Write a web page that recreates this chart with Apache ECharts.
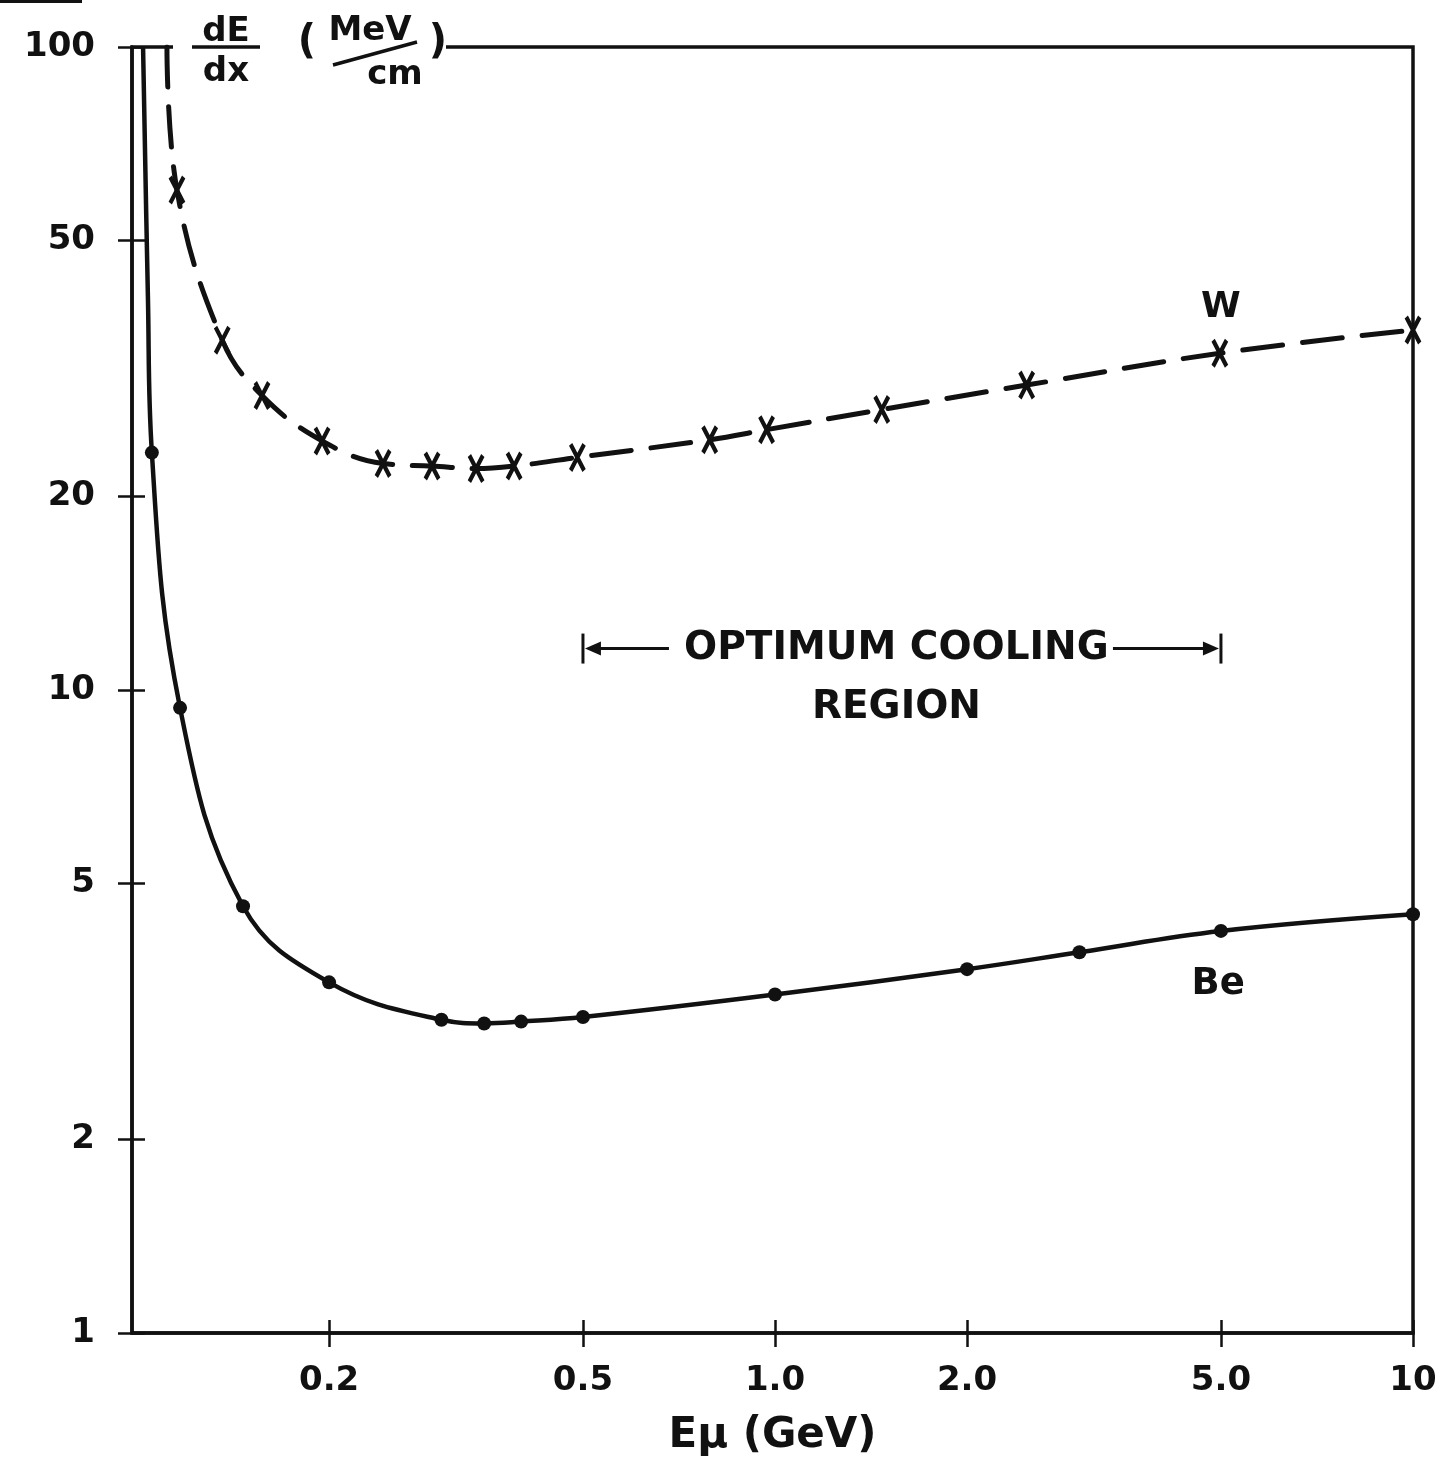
<!DOCTYPE html>
<html>
<head>
<meta charset="utf-8">
<title>dE/dx vs E</title>
<script src="https://cdn.jsdelivr.net/npm/echarts@6/dist/echarts.min.js"></script>
<style>
  html, body { margin: 0; padding: 0; background: #fff; }
  #main { width: 1448px; height: 1470px; }
</style>
</head>
<body>
<div id="main"></div>
<script>
// muon energy (GeV) and dE/dx (MeV/cm)
var beE = [0.1055, 0.1168, 0.1466, 0.2, 0.3, 0.35, 0.4, 0.5, 1.0, 2.0, 3.0, 5.0, 10];
var beV = [23.4, 9.38, 4.61, 3.51, 3.07, 3.03, 3.05, 3.10, 3.36, 3.68, 3.91, 4.22, 4.48];
// unmarked part of the Be curve running off the top
var beTopE = [0.1022, 0.1040];
var beTopV = [100, 41];

var wE = [0.1155, 0.136, 0.157, 0.195, 0.243, 0.29, 0.34, 0.39, 0.49, 0.79, 0.97, 1.47, 2.48, 4.98, 10];
var wV = [59.9, 35.0, 28.7, 24.4, 22.5, 22.3, 22.1, 22.3, 23.0, 24.5, 25.4, 27.3, 29.8, 33.4, 36.3];
var wTopE = [0.1114];
var wTopV = [100];

var xTicks = [0.2, 0.5, 1, 2, 5, 10];
var xTickLabels = ['0.2', '0.5', '1.0', '2.0', '5.0', '10'];
var yTicks = [1, 2, 5, 10, 20, 50, 100];
var yTickLabels = ['1', '2', '5', '10', '20', '50', '100'];

var xMin = Math.log10(0.0982), xMax = 1;
var yMin = 0, yMax = 2;

var ink = '#111';
// X-shaped marker built from two thick bars
var asterisk = 'path://M0,2.81L17,27.81L21.14,25L4.14,0ZM17,0L0,25L4.14,27.81L21.14,2.81Z';

function pts(es, vs) {
  var out = [];
  for (var i = 0; i < es.length; i++) out.push([Math.log10(es[i]), Math.log10(vs[i])]);
  return out;
}
function logs(a) { return a.map(function (v) { return Math.log10(v); }); }
function labelFor(ticks, labels) {
  return function (v) {
    for (var i = 0; i < ticks.length; i++) {
      if (Math.abs(Math.log10(ticks[i]) - v) < 1e-6) return labels[i];
    }
    return '';
  };
}

var xTickVals = logs(xTicks);
var yTickVals = logs(yTicks);
var tickStyle = { color: ink, width: 2.5 };

var chart = echarts.init(document.getElementById('main'));
var option = {
  animation: false,
  backgroundColor: '#fff',
  textStyle: { fontFamily: 'DejaVu Sans', fontWeight: 'bold', color: ink },
  grid: {
    left: 132, right: 35, top: 47, bottom: 137,
    show: true, borderColor: ink, borderWidth: 3.5, backgroundColor: 'transparent',
    outerBoundsMode: 'none'
  },
  xAxis: [{
    type: 'value', position: 'bottom', min: xMin, max: xMax,
    axisLine: { show: true, onZero: false, lineStyle: { color: ink, width: 3.5 } },
    axisTick: { show: true, inside: false, length: 14, customValues: xTickVals, lineStyle: tickStyle },
    axisLabel: {
      customValues: xTickVals, formatter: labelFor(xTicks, xTickLabels),
      margin: 31, fontSize: 34, fontWeight: 'bold', fontFamily: 'DejaVu Sans', color: ink
    },
    splitLine: { show: false },
    name: 'Eμ (GeV)', nameLocation: 'middle', nameGap: 82,
    nameTextStyle: { fontSize: 42, fontWeight: 'bold', fontFamily: 'DejaVu Sans', color: ink }
  }, {
    type: 'value', position: 'bottom', min: xMin, max: xMax,
    axisLine: { show: false, onZero: false },
    axisTick: { show: true, inside: true, length: 13, customValues: xTickVals, lineStyle: tickStyle },
    axisLabel: { show: false },
    splitLine: { show: false }
  }],
  yAxis: [{
    type: 'value', position: 'left', min: yMin, max: yMax,
    axisLine: { show: true, onZero: false, lineStyle: { color: ink, width: 3.5 } },
    axisTick: { show: true, inside: false, length: 14, customValues: yTickVals, lineStyle: tickStyle },
    axisLabel: {
      customValues: yTickVals, formatter: labelFor(yTicks, yTickLabels),
      margin: 37, fontSize: 34, fontWeight: 'bold', fontFamily: 'DejaVu Sans', color: ink
    },
    splitLine: { show: false }
  }, {
    type: 'value', position: 'left', min: yMin, max: yMax,
    axisLine: { show: false, onZero: false },
    axisTick: { show: true, inside: true, length: 13, customValues: yTickVals, lineStyle: tickStyle },
    axisLabel: { show: false },
    splitLine: { show: false }
  }],
  series: [{
    name: 'Be', type: 'line', xAxisIndex: 0, yAxisIndex: 0,
    data: pts(beTopE.concat(beE), beTopV.concat(beV)),
    smooth: 0.4, showSymbol: false, z: 3,
    lineStyle: { color: ink, width: 4.5 }
  }, {
    name: 'Be points', type: 'scatter', xAxisIndex: 0, yAxisIndex: 0,
    data: pts(beE, beV), symbol: 'circle', symbolSize: 14, z: 4,
    itemStyle: { color: ink, opacity: 1 }
  }, {
    name: 'W', type: 'line', xAxisIndex: 0, yAxisIndex: 0,
    data: pts(wTopE.concat(wE), wTopV.concat(wV)),
    smooth: 0.4, showSymbol: false, z: 3,
    lineStyle: { color: ink, width: 5, type: [40, 20], cap: 'round' }
  }, {
    name: 'W points', type: 'scatter', xAxisIndex: 0, yAxisIndex: 0,
    data: pts(wE, wV), symbol: asterisk, symbolSize: [22, 29], symbolKeepAspect: true, z: 4,
    itemStyle: { color: ink, opacity: 1 }
  }]
};
chart.setOption(option);

function px(e, v) {
  return chart.convertToPixel({ gridIndex: 0 }, [Math.log10(e), Math.log10(v)]);
}
function txt(s, x, y, size) {
  return {
    type: 'text', z: 110,
    style: {
      text: s, x: x, y: y, fill: ink,
      fontSize: size, fontWeight: 'bold', fontFamily: 'DejaVu Sans',
      textAlign: 'center', align: 'center', textVerticalAlign: 'middle', verticalAlign: 'middle'
    }
  };
}
function seg(x1, y1, x2, y2, w) {
  return { type: 'line', z: 110, shape: { x1: x1, y1: y1, x2: x2, y2: y2 }, style: { stroke: ink, lineWidth: w } };
}
function tri(points) {
  return { type: 'polygon', z: 110, shape: { points: points }, style: { fill: ink } };
}

var wLab = px(5.0, 39.3);
var beLab = px(4.95, 3.48);
var a0 = px(0.5, 11.6);
var a1 = px(5.0, 11.6);
var mid = px(1.55, 11.6);
var reg = px(1.55, 9.38);

chart.setOption({
  graphic: [
    { type: 'rect', z: 105, shape: { x: 0, y: 0, width: 82, height: 3 }, style: { fill: ink } },
    // gap in the top frame for the axis title
    { type: 'rect', z: 105, shape: { x: 173, y: 38, width: 273, height: 18 }, style: { fill: '#fff' } },
    txt('dE', 226, 32, 34),
    seg(192, 47, 260, 47, 3.5),
    txt('dx', 226, 72, 34),
    txt('(', 307, 43, 40),
    txt('MeV', 370, 31, 34),
    seg(333, 65, 417, 42, 3.5),
    txt('cm', 395, 75, 34),
    txt(')', 438, 43, 40),
    txt('W', wLab[0], wLab[1], 36),
    txt('Be', beLab[0], beLab[1], 37),
    txt('OPTIMUM COOLING', mid[0], mid[1], 39),
    txt('REGION', reg[0], reg[1], 39),
    seg(a0[0], a0[1] - 15, a0[0], a0[1] + 15, 3),
    tri([[a0[0] + 2, a0[1]], [a0[0] + 18, a0[1] - 7], [a0[0] + 18, a0[1] + 7]]),
    seg(a0[0] + 10, a0[1], a0[0] + 86, a0[1], 3),
    seg(a1[0], a1[1] - 15, a1[0], a1[1] + 15, 3),
    tri([[a1[0] - 2, a1[1]], [a1[0] - 18, a1[1] - 7], [a1[0] - 18, a1[1] + 7]]),
    seg(a1[0] - 108, a1[1], a1[0] - 10, a1[1], 3)
  ]
});
</script>
</body>
</html>
